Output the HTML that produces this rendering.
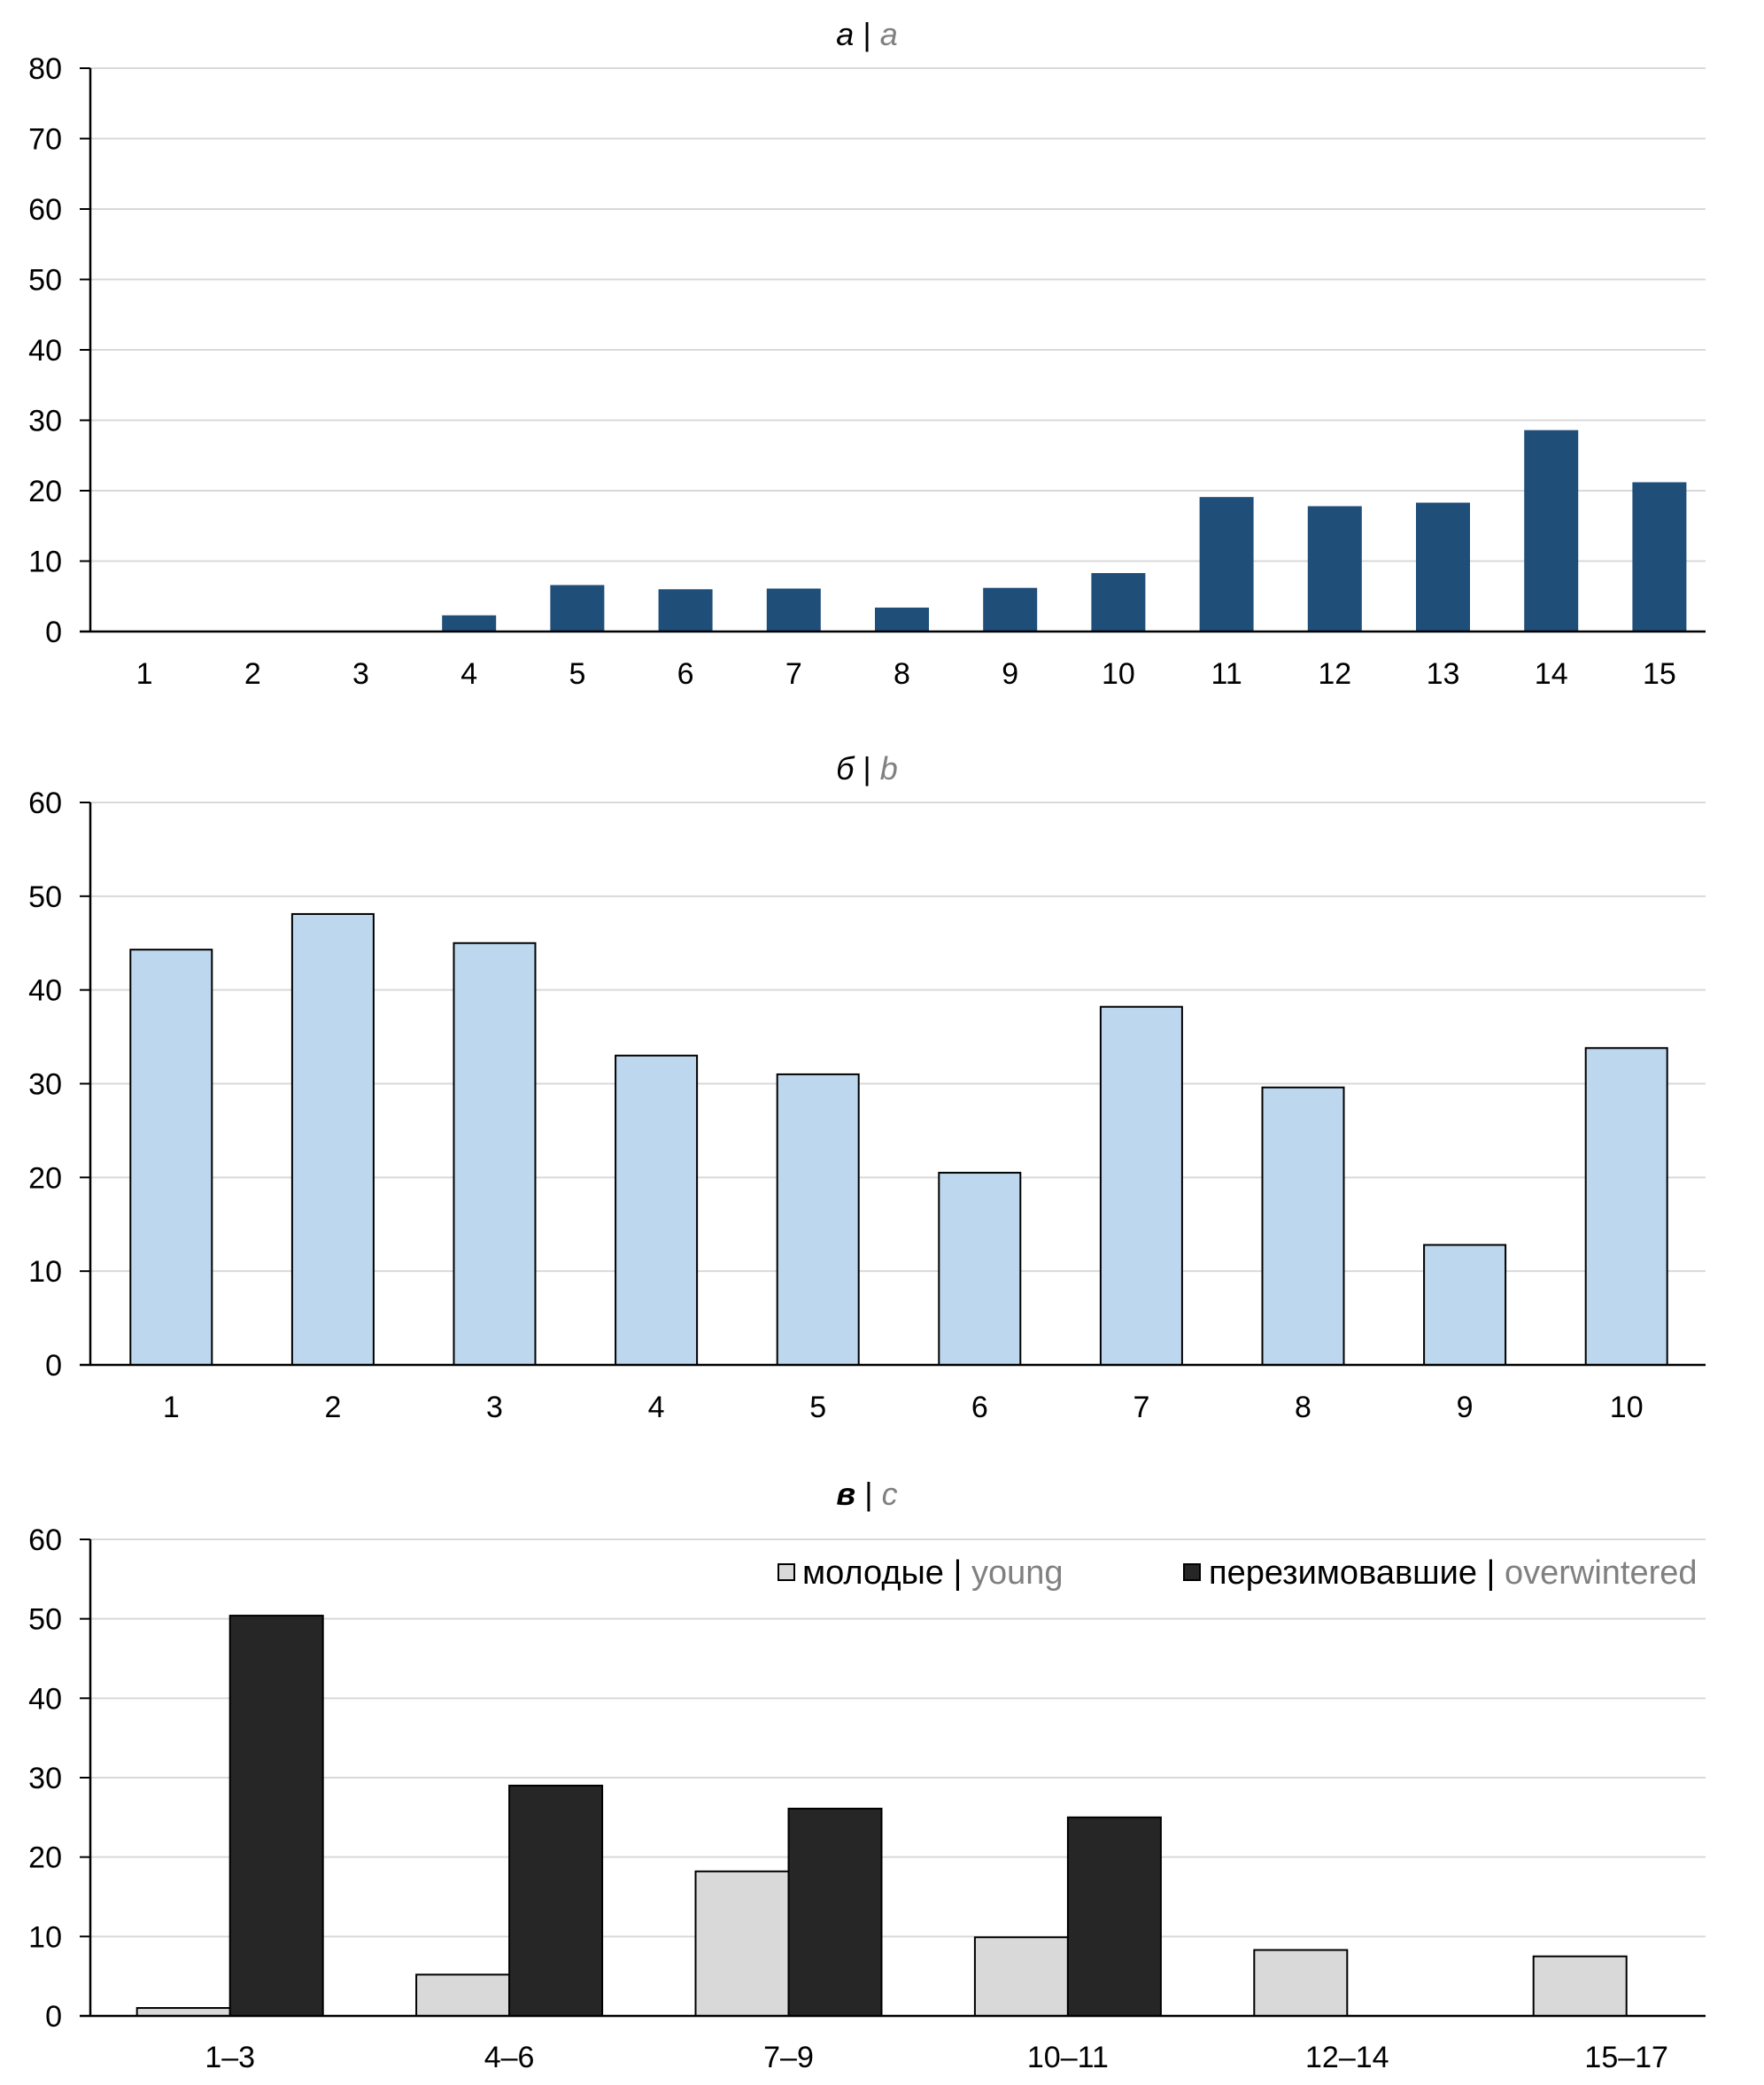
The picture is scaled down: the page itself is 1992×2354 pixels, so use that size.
<!DOCTYPE html>
<html><head><meta charset="utf-8"><style>
html,body{margin:0;padding:0;background:#fff}
svg{display:block}
text{font-family:"Liberation Sans","DejaVu Sans",sans-serif;fill:#000}
</style></head><body>
<svg id="svg" width="1992" height="2354" viewBox="0 0 1992 2354" xmlns="http://www.w3.org/2000/svg"></svg>
<script>
const catsA=["1","2","3","4","5","6","7","8","9","10","11","12","13","14","15"];
const valsA=[0,0,0,2.3,6.6,6,6.1,3.4,6.2,8.3,19.1,17.8,18.3,28.6,21.2];
const ticksA=[0,10,20,30,40,50,60,70,80];
const catsB=["1","2","3","4","5","6","7","8","9","10"];
const valsB=[44.3,48.1,45,33,31,20.5,38.2,29.6,12.8,33.8];
const ticksB=[0,10,20,30,40,50,60];
const catsC=["1–3","4–6","7–9","10–11","12–14","15–17"];
const youngC=[1,5.2,18.2,9.9,8.3,7.5];
const overC=[50.4,29,26.1,25,0,0];
const ticksC=[0,10,20,30,40,50,60];

const NS="http://www.w3.org/2000/svg";
const svg=document.getElementById('svg');
function el(t,a,p){const e=document.createElementNS(NS,t);for(const k in a)e.setAttribute(k,a[k]);(p||svg).appendChild(e);return e;}
const L=102,R=1926;

function axes(g,y0,yTop,max,ticks,cats,labelY,bw){
  const ys=v=>y0-(v/max)*(y0-yTop);
  ticks.forEach(t=>{
    if(t>0){const gl=el('line',{x1:L,x2:R,y1:ys(t),y2:ys(t),stroke:'#d9d9d9','stroke-width':2},g);
    
    }
    const tk=el('line',{x1:90,x2:L,y1:ys(t),y2:ys(t),stroke:'#000','stroke-width':2},g);
    
    
    const tx=el('text',{x:70,y:ys(t)+12,'text-anchor':'end','font-size':34},g);
    tx.textContent=t;
    
    
  });
  cats.forEach((c,i)=>{
    const tx=el('text',{x:L+bw*(i+0.5),y:labelY,'text-anchor':'middle','font-size':34},g);
    tx.textContent=c;
    
    
  });
  const ya=el('line',{x1:L,x2:L,y1:yTop,y2:y0,stroke:'#000','stroke-width':2.5},g);
  
  
  return {ys,bw};
}
function xaxis(g,y0){const xa=el('line',{x1:90,x2:R,y1:y0,y2:y0,stroke:'#000','stroke-width':2.5},g);
  
  }
function title(g,y,html,name){const t=el('text',{x:979,y:y,'text-anchor':'middle','font-size':36,'font-style':'italic'},g);
  t.innerHTML=html;
  
  }

// chart a
let g=el('g',{});


title(g,51,'а <tspan font-style="normal">|</tspan> <tspan fill="#808080">a</tspan>','chart-a-title');
let A=axes(g,713,77,80,ticksA,catsA,772,122.2);
valsA.forEach((v,i)=>{const w=61;const b=el('rect',{x:L+A.bw*(i+0.5)-w/2,y:A.ys(v),width:w,height:713-A.ys(v),fill:'#1f4e79'},g);
  
  });
xaxis(g,713);

// chart b
g=el('g',{});


title(g,880,'б <tspan font-style="normal">|</tspan> <tspan fill="#808080">b</tspan>','chart-b-title');
let B=axes(g,1541,906,60,ticksB,catsB,1600,182.6);
valsB.forEach((v,i)=>{const w=92;const b=el('rect',{x:L+B.bw*(i+0.5)-w/2,y:B.ys(v),width:w,height:1541-B.ys(v),fill:'#bdd7ee',stroke:'#000','stroke-width':2},g);
  
  });
xaxis(g,1541);

// chart c
g=el('g',{});


title(g,1699,'<tspan font-weight="bold">в</tspan> <tspan font-style="normal">|</tspan> <tspan fill="#808080">с</tspan>','chart-c-title');
let C=axes(g,2276,1738,60,ticksC,catsC,2334,315.4);
catsC.forEach((c,i)=>{const w=105;const cx=L+C.bw*(i+0.5);
  if(youngC[i]>0){const b=el('rect',{x:cx-w,y:C.ys(youngC[i]),width:w,height:2276-C.ys(youngC[i]),fill:'#d9d9d9',stroke:'#000','stroke-width':2},g);
  
  }
  if(overC[i]>0){const b=el('rect',{x:cx,y:C.ys(overC[i]),width:w,height:2276-C.ys(overC[i]),fill:'#262626',stroke:'#000','stroke-width':2},g);
  
  }
});
xaxis(g,2276);
// legend
const lg=el('g',{},g);


let s=el('rect',{x:879,y:1766,width:18,height:18,fill:'#d9d9d9',stroke:'#000','stroke-width':2},lg);


let t=el('text',{x:906,y:1788,'font-size':38},lg);
t.innerHTML='молодые | <tspan fill="#808080">young</tspan>';


s=el('rect',{x:1337,y:1766,width:18,height:18,fill:'#262626',stroke:'#000','stroke-width':2},lg);


t=el('text',{x:1365,y:1788,'font-size':38},lg);
t.innerHTML='перезимовавшие | <tspan fill="#808080">overwintered</tspan>';


</script>
</body></html>
